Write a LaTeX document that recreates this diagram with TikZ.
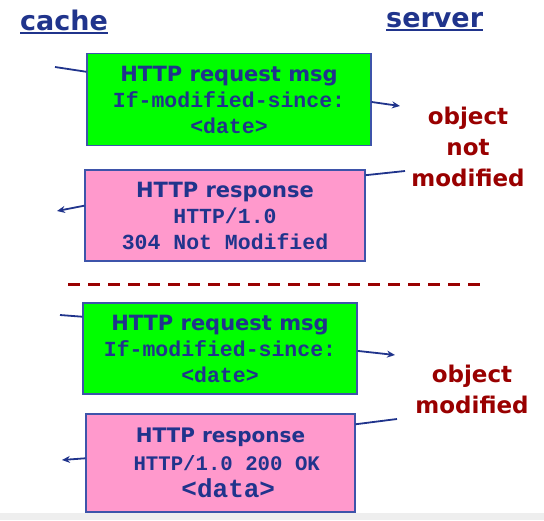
\documentclass[tikz,border=0pt]{standalone}
\usepackage{fontspec}
\usetikzlibrary{arrows.meta}
\setmainfont{DejaVu Sans}
\newfontfamily\monofont{Liberation Mono}

\definecolor{msgblau}{RGB}{32,52,140}
\definecolor{boxrand}{RGB}{62,84,170}
\definecolor{anfgruen}{RGB}{0,255,0}
\definecolor{antrosa}{RGB}{255,153,204}
\definecolor{dunkelrot}{RGB}{153,0,0}
\definecolor{grauband}{RGB}{238,238,238}

\newcommand\mono[1][21.5]{\monofont\bfseries\fontsize{#1}{26}\selectfont}
\newcommand\kopfstrich[1]{\setbox0\hbox{#1}\rlap{\rule[-3.5pt]{\wd0}{2pt}}\box0}

\begin{document}
\begin{tikzpicture}[>={Stealth[length=8pt, width=7pt]}, x=1pt, y=-1pt,
  box/.style={draw=boxrand, line width=1.2pt, align=center, inner sep=0pt,
    text=msgblau, font=\bfseries\fontsize{21}{26}\selectfont},
  anfrage/.style={box, fill=anfgruen},
  antwort/.style={box, fill=antrosa},
  kopf/.style={anchor=base west, inner sep=0pt, text=msgblau,
    font=\bfseries\fontsize{27}{30}\selectfont},
  status/.style={align=center, inner sep=0pt, text=dunkelrot,
    font=\bfseries\fontsize{23}{31}\selectfont},
  pfeil/.style={msgblau, line width=1.8pt}]

\useasboundingbox (0,0) rectangle (544,520);
\fill[grauband] (0,513) rectangle (544,520);

% Ueberschriften
\node[kopf] (cache) at (20,30) {\kopfstrich{cache}};
\node[kopf] (server) at (386,27) {\kopfstrich{server}};

% oben: Objekt nicht modifiziert
\node[anfrage, minimum width=284, minimum height=92] (req1) at (229,99.5)
  {HTTP request msg\\ {\mono If-modified-since:}\\ {\mono <date>}};
\node[antwort, minimum width=280, minimum height=91] (resp1) at (225,215.5)
  {HTTP response\\ {\mono HTTP/1.0}\\ {\mono 304 Not Modified}};
\node[status] (nmod) at (468,147) {object\\ not\\ modified};

\coordinate (c1) at (55,67);
\coordinate (s1) at (400,106);
\coordinate (s2) at (405,171);
\coordinate (c2) at (57,211);
\draw[pfeil] (c1) -- (req1.169);
\draw[pfeil, ->] (req1.359) -- (s1);
\draw[pfeil] (s2) -- (resp1.16);
\draw[pfeil, ->] (resp1.176) -- (c2);

% Trennlinie
\coordinate (trennL) at (68,284);
\coordinate (trennR) at (485,284);
\draw[dunkelrot, line width=3pt, dash pattern=on 12pt off 8pt] (trennL) -- (trennR);

% unten: Objekt modifiziert
\node[anfrage, minimum width=274, minimum height=91] (req2) at (220,348.5)
  {HTTP request msg\\ {\mono If-modified-since:}\\ {\mono <date>}};
\node[antwort, minimum width=269, minimum height=98, font=\bfseries\fontsize{20}{27.5}\selectfont]
  (resp2) at (220.5,463)
  {HTTP response\\ {\mono[20.7] HTTP/1.0 200 OK}\\ {\mono[26] <data>}};
\node[status] (mod) at (472,389) {object\\ modified};

\coordinate (c3) at (60,315);
\coordinate (s3) at (395,355);
\coordinate (s4) at (397,419);
\coordinate (c4) at (62,460);
\draw[pfeil] (c3) -- (req2.167);
\draw[pfeil, ->] (req2.359) -- (s3);
\draw[pfeil] (s4) -- (resp2.16);
\draw[pfeil, ->] (resp2.178) -- (c4);

\end{tikzpicture}
\end{document}
